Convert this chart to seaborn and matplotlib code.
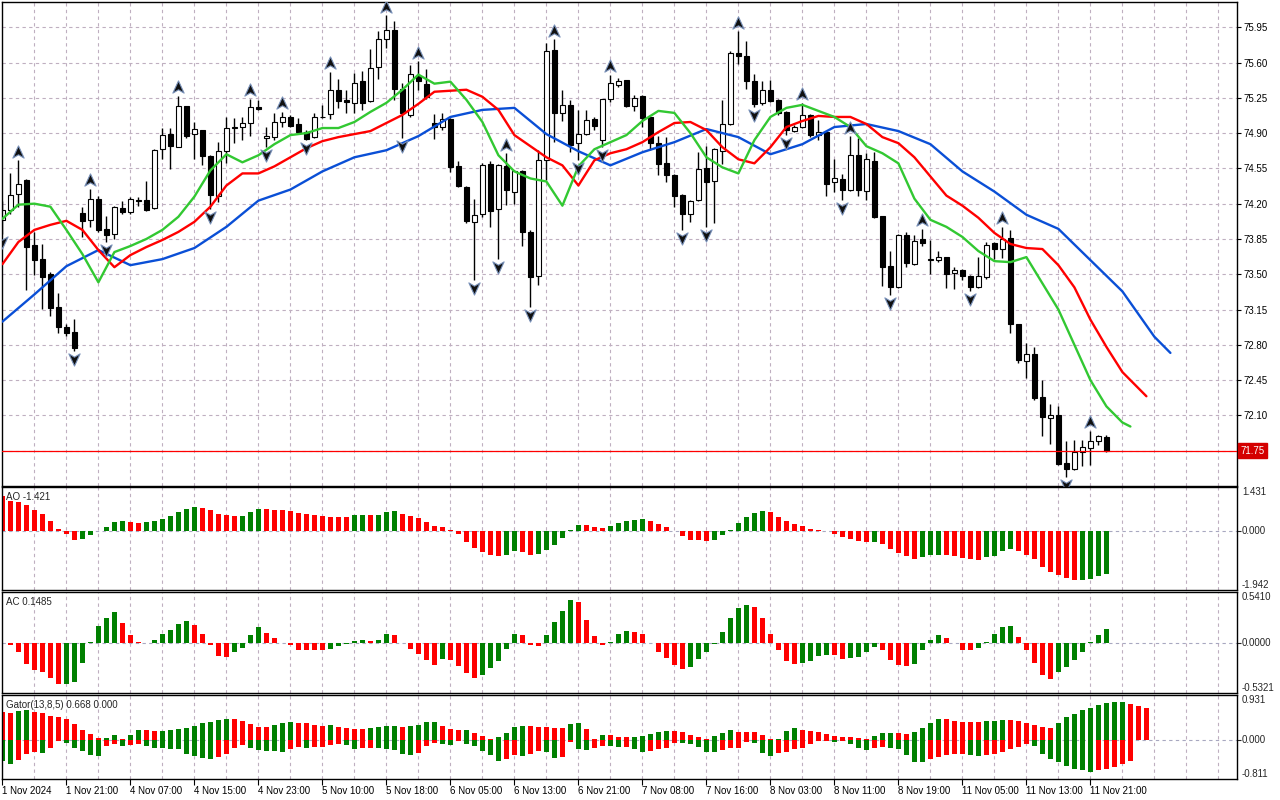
import matplotlib
matplotlib.use("Agg")
import matplotlib.pyplot as plt
import matplotlib.transforms as mtransforms
from matplotlib.path import Path
import numpy as np
import pandas as pd
import seaborn as sns

sns.set_style("white")
plt.rcParams["font.family"] = ["Liberation Sans", "DejaVu Sans"]

# ---------------- data ----------------
opens = [74.035, 74.14, 74.30, 74.43, 73.79, 73.65, 73.50, 73.18, 72.98, 72.93,
         74.11, 74.04, 74.25, 73.95, 73.90, 74.16, 74.12, 74.24, 74.24, 74.16,
         74.74, 74.89, 74.76, 75.17, 74.89, 74.93, 74.67, 74.28, 74.72, 74.95,
         74.96, 75.00, 75.16, 74.85, 74.86, 75.01, 75.06, 74.99, 74.91, 74.86,
         75.06, 75.09, 75.33, 75.23, 75.20, 75.42, 75.22, 75.56, 75.83, 75.92,
         75.34, 75.08, 75.47, 75.39, 75.00, 74.96, 75.04, 74.57, 74.37, 74.02,
         74.10, 74.59, 74.15, 74.57, 74.32, 74.52, 73.92, 73.48, 74.63, 75.72,
         75.10, 75.18, 74.80, 74.89, 75.04, 74.83, 75.24, 75.38, 75.43, 75.17,
         75.27, 75.06, 74.80, 74.60, 74.48, 74.29, 74.10, 74.24, 74.55, 74.42,
         74.72, 74.99, 75.69, 75.66, 75.42, 75.20, 75.33, 75.23, 75.11, 74.92,
         74.96, 75.08, 74.88, 74.91, 74.41, 74.44, 74.34, 74.68, 74.33, 74.62,
         74.08, 73.58, 73.37, 73.89, 73.60, 73.85, 73.64, 73.64, 73.67, 73.51,
         73.54, 73.48, 73.37, 73.47, 73.81, 73.75, 73.86, 73.01, 72.64, 72.71,
         72.28, 72.07, 72.10, 71.63, 71.57, 71.74, 71.78, 71.85, 71.89]
highs = [74.23, 74.50, 74.63, 74.44, 73.92, 73.80, 73.52, 73.31, 73.01, 73.06,
         74.17, 74.35, 74.28, 74.08, 74.18, 74.23, 74.27, 74.27, 74.42, 74.74,
         74.95, 74.95, 75.27, 75.17, 75.01, 74.93, 74.68, 74.81, 75.06, 75.05,
         75.06, 75.24, 75.23, 74.96, 75.10, 75.11, 75.08, 75.05, 74.93, 75.10,
         75.18, 75.51, 75.44, 75.33, 75.50, 75.52, 75.73, 75.91, 76.07, 76.01,
         75.40, 75.58, 75.61, 75.54, 75.09, 75.10, 75.05, 74.62, 74.38, 74.25,
         74.60, 74.62, 74.59, 74.70, 74.53, 74.53, 73.94, 74.73, 75.79, 75.83,
         75.33, 75.23, 75.13, 75.13, 75.06, 75.24, 75.48, 75.45, 75.43, 75.28,
         75.28, 75.06, 74.87, 74.86, 74.49, 74.30, 74.24, 74.71, 74.77, 74.75,
         75.23, 75.71, 75.91, 75.81, 75.49, 75.42, 75.43, 75.24, 75.12, 74.98,
         75.20, 75.09, 75.03, 74.91, 74.64, 74.49, 74.87, 74.85, 74.70, 74.71,
         74.08, 73.73, 73.90, 73.92, 73.89, 73.95, 73.84, 73.73, 73.67, 73.57,
         73.55, 73.49, 73.67, 73.82, 73.82, 73.97, 73.94, 73.01, 72.82, 72.78,
         72.45, 72.21, 72.19, 71.85, 71.86, 71.86, 71.95, 71.91, 71.91]
lows = [73.90, 74.10, 74.17, 73.34, 73.49, 73.16, 73.09, 72.92, 72.89, 72.74,
        73.87, 73.97, 73.92, 73.82, 73.85, 74.10, 74.10, 74.18, 74.13, 74.15,
        74.64, 74.54, 74.76, 74.85, 74.64, 74.58, 74.15, 74.22, 74.60, 74.80,
        74.83, 74.87, 75.13, 74.76, 74.83, 74.96, 74.96, 74.90, 74.83, 74.85,
        75.05, 75.04, 75.15, 75.10, 75.10, 75.13, 75.21, 75.44, 75.74, 75.23,
        74.85, 75.06, 75.33, 75.24, 74.84, 74.93, 74.51, 74.37, 74.01, 73.44,
        74.07, 73.97, 73.65, 74.19, 74.20, 73.78, 73.18, 73.39, 74.43, 74.81,
        75.02, 74.71, 74.63, 74.88, 74.93, 74.76, 75.21, 75.36, 75.16, 75.12,
        74.96, 74.73, 74.48, 74.41, 74.17, 73.94, 74.02, 74.23, 73.97, 74.01,
        74.59, 74.98, 75.59, 75.34, 75.16, 75.18, 75.21, 75.08, 74.88, 74.91,
        74.95, 74.86, 74.83, 74.28, 74.32, 74.24, 74.33, 74.28, 74.24, 74.06,
        73.38, 73.29, 73.36, 73.57, 73.59, 73.78, 73.50, 73.62, 73.36, 73.35,
        73.44, 73.33, 73.36, 73.45, 73.65, 73.66, 72.92, 72.62, 72.47, 72.25,
        71.90, 71.82, 71.61, 71.49, 71.56, 71.60, 71.61, 71.81, 71.74]
closes = [74.14, 74.29, 74.40, 73.77, 73.64, 73.47, 73.17, 72.98, 72.92, 72.77,
          74.03, 74.25, 73.94, 73.89, 74.17, 74.12, 74.25, 74.23, 74.14, 74.73,
          74.88, 74.77, 75.17, 74.87, 74.94, 74.67, 74.29, 74.72, 74.95, 74.96,
          75.00, 75.16, 75.14, 74.87, 75.01, 75.06, 74.97, 74.91, 74.84, 75.06,
          75.055, 75.33, 75.22, 75.21, 75.40, 75.20, 75.55, 75.83, 75.92, 75.34,
          75.10, 75.49, 75.42, 75.26, 74.96, 75.04, 74.56, 74.38, 74.03, 74.09,
          74.58, 74.13, 74.58, 74.34, 74.52, 73.92, 73.47, 74.63, 75.71, 75.10,
          75.18, 74.78, 74.89, 75.03, 74.97, 75.24, 75.40, 75.42, 75.17, 75.25,
          75.05, 74.80, 74.59, 74.48, 74.28, 74.10, 74.23, 74.54, 74.41, 74.74,
          74.99, 75.69, 75.66, 75.42, 75.19, 75.33, 75.22, 75.10, 74.93, 74.96,
          75.08, 74.88, 74.91, 74.40, 74.45, 74.34, 74.68, 74.34, 74.64, 74.07,
          73.57, 73.37, 73.89, 73.61, 73.83, 73.81, 73.65, 73.67, 73.50, 73.54,
          73.48, 73.37, 73.48, 73.79, 73.75, 73.85, 73.01, 72.65, 72.71, 72.27,
          72.08, 72.10, 71.62, 71.57, 71.74, 71.79, 71.85, 71.90, 71.75]

fractal_up_bars = [2, 11, 22, 31, 35, 41, 48, 52, 63, 69, 76, 92, 100, 106, 115, 125, 136]
fractal_down_bars = [0, 9, 13, 26, 33, 38, 50, 59, 62, 66, 72, 75, 85, 88, 94, 98, 105, 111, 121, 133]

# Alligator lines (already shifted forward: jaw 8, teeth 5, lips 3 bars)
jaw_bars = list(range(0, 145, 4)) + [146]
jaw_vals = [73.03, 73.30, 73.58, 73.74, 73.59, 73.65, 73.76, 73.97, 74.23, 74.34,
            74.52, 74.66, 74.73, 74.87, 75.06, 75.13, 75.15, 74.89, 74.72, 74.58,
            74.71, 74.81, 74.94, 74.86, 74.69, 74.79, 74.96, 74.99, 74.92, 74.79,
            74.52, 74.32, 74.09, 73.95, 73.64, 73.33, 72.88, 72.72]
teeth_bars = list(range(0, 143, 2)) + [143]
teeth_vals = [73.60, 73.82, 73.94, 73.99, 74.03, 73.94, 73.74, 73.57, 73.69, 73.77,
              73.84, 73.92, 74.02, 74.17, 74.38, 74.50, 74.50, 74.57, 74.66, 74.75,
              74.82, 74.86, 74.89, 74.92, 75.00, 75.08, 75.19, 75.31, 75.32, 75.33,
              75.26, 75.13, 74.88, 74.77, 74.66, 74.58, 74.38, 74.63, 74.70, 74.74,
              74.81, 74.91, 75.00, 75.01, 74.93, 74.76, 74.64, 74.60, 74.76, 74.96,
              75.02, 75.07, 75.06, 75.06, 74.99, 74.86, 74.80, 74.66, 74.47, 74.28,
              74.18, 74.06, 73.91, 73.80, 73.76, 73.75, 73.59, 73.37, 73.05, 72.78,
              72.53, 72.37, 72.29]
lips_bars = list(range(0, 141, 2)) + [141]
lips_vals = [74.05, 74.19, 74.20, 74.17, 73.94, 73.70, 73.42, 73.72, 73.78, 73.85,
             73.94, 74.07, 74.27, 74.53, 74.69, 74.61, 74.68, 74.79, 74.88, 74.90,
             74.95, 74.95, 75.01, 75.11, 75.20, 75.33, 75.48, 75.39, 75.41, 75.23,
             75.01, 74.68, 74.52, 74.45, 74.42, 74.18, 74.57, 74.74, 74.81, 74.88,
             75.02, 75.12, 75.10, 74.90, 74.66, 74.56, 74.50, 74.83, 75.06, 75.15,
             75.18, 75.12, 75.06, 74.96, 74.77, 74.70, 74.60, 74.25, 74.04, 73.97,
             73.87, 73.73, 73.63, 73.62, 73.67, 73.41, 73.15, 72.80, 72.45, 72.19,
             72.03, 71.99]

ao_vals = [1.14, 0.96, 0.95, 0.85, 0.69, 0.56, 0.33, 0.07, -0.12, -0.32,
           -0.28, -0.15, -0.02, 0.13, 0.29, 0.33, 0.27, 0.26, 0.29, 0.33,
           0.39, 0.49, 0.62, 0.72, 0.78, 0.75, 0.69, 0.56, 0.52, 0.48,
           0.49, 0.62, 0.72, 0.71, 0.69, 0.68, 0.65, 0.59, 0.56, 0.52,
           0.49, 0.46, 0.45, 0.44, 0.52, 0.53, 0.52, 0.53, 0.62, 0.63,
           0.56, 0.49, 0.43, 0.29, 0.16, 0.13, 0.03, -0.11, -0.36, -0.56,
           -0.69, -0.78, -0.82, -0.78, -0.65, -0.69, -0.78, -0.75, -0.62, -0.46,
           -0.23, 0.03, 0.20, 0.19, 0.13, 0.10, 0.16, 0.26, 0.33, 0.36,
           0.39, 0.33, 0.23, 0.13, -0.01, -0.19, -0.29, -0.30, -0.33, -0.32,
           -0.15, 0.03, 0.26, 0.46, 0.59, 0.65, 0.62, 0.46, 0.33, 0.23,
           0.16, 0.07, 0.01, -0.02, -0.12, -0.22, -0.28, -0.35, -0.38, -0.37,
           -0.45, -0.61, -0.74, -0.84, -0.94, -0.87, -0.81, -0.80, -0.81, -0.84,
           -0.90, -0.94, -0.95, -0.87, -0.84, -0.68, -0.61, -0.68, -0.81, -0.94,
           -1.20, -1.35, -1.46, -1.56, -1.62, -1.61, -1.59, -1.49, -1.421]
ac_vals = [0.0, -0.025, -0.094, -0.22, -0.29, -0.31, -0.375, -0.44, -0.435, -0.42,
           -0.21, 0.014, 0.18, 0.27, 0.33, 0.21, 0.08, 0.014, 0.004, 0.036,
           0.09, 0.14, 0.20, 0.23, 0.19, 0.09, -0.025, -0.14, -0.15, -0.10,
           -0.05, 0.08, 0.17, 0.11, 0.05, 0.004, -0.025, -0.07, -0.072, -0.073,
           -0.08, -0.06, -0.035, -0.015, 0.025, 0.036, 0.025, 0.036, 0.09, 0.08,
           0.0, -0.06, -0.115, -0.18, -0.235, -0.17, -0.18, -0.245, -0.32, -0.375,
           -0.34, -0.27, -0.19, -0.06, 0.09, 0.08, -0.025, -0.03, 0.08, 0.22,
           0.34, 0.46, 0.44, 0.24, 0.07, -0.025, 0.014, 0.10, 0.13, 0.12,
           0.10, -0.004, -0.094, -0.155, -0.235, -0.28, -0.26, -0.17, -0.10, -0.015,
           0.12, 0.26, 0.37, 0.40, 0.38, 0.26, 0.10, -0.08, -0.19, -0.22,
           -0.21, -0.19, -0.14, -0.13, -0.132, -0.17, -0.165, -0.15, -0.094, -0.04,
           -0.07, -0.18, -0.235, -0.245, -0.22, -0.07, 0.036, 0.08, 0.05, -0.004,
           -0.07, -0.072, -0.05, 0.014, 0.09, 0.17, 0.18, 0.06, -0.07, -0.21,
           -0.34, -0.385, -0.31, -0.26, -0.18, -0.094, 0.005, 0.08, 0.1485]
gator_upper = [0.576, 0.562, 0.604, 0.625, 0.57, 0.555, 0.50, 0.47, 0.43, 0.333,
               0.208, 0.125, 0.042, 0.045, 0.104, 0.021, 0.104, 0.208, 0.205, 0.187,
               0.19, 0.208, 0.229, 0.257, 0.278, 0.34, 0.375, 0.416, 0.437, 0.43,
               0.389, 0.333, 0.271, 0.268, 0.312, 0.34, 0.361, 0.347, 0.34, 0.319,
               0.298, 0.30, 0.271, 0.25, 0.229, 0.227, 0.25, 0.271, 0.278, 0.291,
               0.271, 0.298, 0.319, 0.375, 0.378, 0.29, 0.23, 0.208, 0.21, 0.146,
               0.083, 0.02, 0.062, 0.146, 0.27, 0.29, 0.288, 0.27, 0.268, 0.25,
               0.248, 0.333, 0.354, 0.229, 0.021, 0.104, 0.10, 0.062, 0.06, 0.062,
               0.083, 0.125, 0.167, 0.187, 0.185, 0.167, 0.104, 0.062, 0.021, 0.083,
               0.146, 0.208, 0.167, 0.165, 0.163, 0.104, 0.02, 0.021, 0.187, 0.25,
               0.208, 0.175, 0.16, 0.125, 0.08, 0.055, 0.05, 0.035, 0.014, 0.076,
               0.14, 0.145, 0.135, 0.12, 0.16, 0.245, 0.35, 0.43, 0.425, 0.39,
               0.37, 0.368, 0.365, 0.39, 0.395, 0.41, 0.405, 0.39, 0.35, 0.305,
               0.265, 0.245, 0.35, 0.47, 0.535, 0.62, 0.66, 0.72, 0.76, 0.78,
               0.785, 0.74, 0.70, 0.668]
gator_lower = [-0.43, -0.50, -0.42, -0.285, -0.25, -0.27, -0.167, -0.02, -0.056, -0.167,
               -0.222, -0.305, -0.333, -0.118, -0.083, -0.118, -0.097, -0.083, -0.118, -0.167,
               -0.17, -0.187, -0.19, -0.285, -0.333, -0.375, -0.396, -0.347, -0.285, -0.167,
               -0.104, -0.167, -0.208, -0.229, -0.23, -0.25, -0.187, -0.139, -0.16, -0.146,
               -0.139, -0.104, -0.083, -0.104, -0.187, -0.167, -0.165, -0.174, -0.187, -0.208,
               -0.29, -0.31, -0.27, -0.12, -0.06, -0.09, -0.104, -0.014, -0.076, -0.118,
               -0.222, -0.31, -0.43, -0.389, -0.31, -0.333, -0.29, -0.229, -0.25, -0.375,
               -0.354, -0.042, -0.187, -0.208, -0.167, -0.125, -0.127, -0.146, -0.145, -0.187,
               -0.25, -0.229, -0.187, -0.16, -0.056, -0.07, -0.075, -0.139, -0.243, -0.25,
               -0.208, -0.167, -0.16, -0.035, -0.062, -0.278, -0.326, -0.278, -0.25, -0.19,
               -0.165, -0.08, -0.03, -0.015, -0.05, -0.02, -0.09, -0.17, -0.215, -0.17,
               -0.15, -0.17, -0.19, -0.32, -0.465, -0.465, -0.40, -0.36, -0.32, -0.30,
               -0.30, -0.32, -0.34, -0.32, -0.30, -0.26, -0.19, -0.15, -0.09, -0.13,
               -0.30, -0.40, -0.465, -0.55, -0.61, -0.63, -0.67, -0.63, -0.61, -0.57,
               -0.49, -0.44]

time_labels = ["1 Nov 2024", "1 Nov 21:00", "4 Nov 07:00", "4 Nov 15:00", "4 Nov 23:00",
               "5 Nov 10:00", "5 Nov 18:00", "6 Nov 05:00", "6 Nov 13:00", "6 Nov 21:00",
               "7 Nov 08:00", "7 Nov 16:00", "8 Nov 03:00", "8 Nov 11:00", "8 Nov 19:00",
               "11 Nov 05:00", "11 Nov 13:00", "11 Nov 21:00"]
price_ticks = [75.95, 75.60, 75.25, 74.90, 74.55, 74.20, 73.85, 73.50, 73.15, 72.80, 72.45, 72.10]
bid_price = 71.75
main_range = (71.40, 76.20)
ao_range = (-1.942, 1.431)
ac_range = (-0.5321, 0.5410)
gator_range = (-0.811, 0.931)
ao_labels = ["-1.942", "0.000", "1.431"]
ac_labels = ["-0.5321", "0.0000", "0.5410"]
gator_labels = ["-0.811", "0.000", "0.931"]
ao_title = "AO -1.421"
ac_title = "AC 0.1485"
gator_title = "Gator(13,8,5) 0.668 0.000"

# ---------------- styling ----------------
GREEN = "#008000"
RED = "#FF0000"
GRID = "#BFAFC0"
FS = 7
W, H = 1280, 800
LABEL_EVERY = 8
GRID_EVERY = 4

fig = plt.figure(figsize=(W / 100, H / 100), dpi=100)
fig.patch.set_facecolor("white")


def axes_px(top, bottom, left=2, right=1237):
    return fig.add_axes([left / W, 1 - bottom / H, (right - left) / W, (bottom - top) / H])


ax_main = axes_px(2, 486)
ax_ao = axes_px(487, 590)
ax_ac = axes_px(592, 693)
ax_gt = axes_px(695, 779)
all_axes = [ax_main, ax_ao, ax_ac, ax_gt]

n = len(closes)
xmax = (1237 - 2) / 8.0 - 0.05
for ax in all_axes:
    ax.set_facecolor("white")
    ax.set_xlim(-0.05, xmax)
    for s in ax.spines.values():
        s.set_color("black")
        s.set_linewidth(1.0)
    for gx in range(GRID_EVERY, int(xmax) + 1, GRID_EVERY):
        ax.axvline(gx, color=GRID, lw=0.8, ls=(0, (3, 3)), zorder=0)
    ax.tick_params(axis="x", bottom=False, labelbottom=False)

# ---- main panel: candles ----
x = np.arange(n)
o = np.array(opens); c = np.array(closes); hi = np.array(highs); lo = np.array(lows)
ax_main.vlines(x, lo, hi, color="black", lw=1.0, zorder=2)
body_bottom = np.minimum(o, c)
body_h = np.maximum(np.abs(c - o), 0.006)
faces = ["white" if cc >= oo else "black" for oo, cc in zip(o, c)]
ax_main.bar(x, body_h, bottom=body_bottom, width=0.62, color=faces,
            edgecolor="black", linewidth=0.8, zorder=2.5)

# ---- alligator lines via seaborn ----
for bars, vals, col in [(jaw_bars, jaw_vals, "#0A4FD6"),
                        (teeth_bars, teeth_vals, "#FF0000"),
                        (lips_bars, lips_vals, "#32C832")]:
    df = pd.DataFrame({"bar": bars, "value": vals})
    sns.lineplot(data=df, x="bar", y="value", ax=ax_main, color=col, lw=1.7,
                 estimator=None, sort=False, zorder=3)

# ---- fractals ----
up_path = Path([(0, 1), (0.85, -0.85), (0, -0.35), (-0.85, -0.85), (0, 1)],
               [Path.MOVETO, Path.LINETO, Path.LINETO, Path.LINETO, Path.CLOSEPOLY])
down_path = Path([(0, -1), (0.85, 0.85), (0, 0.35), (-0.85, 0.85), (0, -1)],
                 [Path.MOVETO, Path.LINETO, Path.LINETO, Path.LINETO, Path.CLOSEPOLY])
off_up = ax_main.transData + mtransforms.ScaledTranslation(0, 8.5 / 100, fig.dpi_scale_trans)
off_dn = ax_main.transData + mtransforms.ScaledTranslation(0, -8 / 100, fig.dpi_scale_trans)
ax_main.plot(fractal_up_bars, [highs[i] for i in fractal_up_bars], ls="none",
             marker=up_path, ms=9.5, mfc="#101010", mec="#7890B8", mew=0.8,
             transform=off_up, zorder=4)
ax_main.plot(fractal_down_bars, [lows[i] for i in fractal_down_bars], ls="none",
             marker=down_path, ms=9.5, mfc="#101010", mec="#7890B8", mew=0.8,
             transform=off_dn, zorder=4)

ax_main.set_ylim(*main_range)
ax_main.set_xlim(-0.05, xmax)
ax_main.set_xlabel(""); ax_main.set_ylabel("")
ax_main.set_yticks(price_ticks)
ax_main.set_yticklabels([f"{p:.2f}" for p in price_ticks])
ax_main.yaxis.tick_right()
ax_main.tick_params(axis="y", right=True, left=False, labelright=True, labelleft=False,
                    length=3, width=0.8, pad=2, labelsize=FS, colors="black")
for p in price_ticks + [bid_price]:
    ax_main.axhline(p, color=GRID, lw=0.8, ls=(0, (3, 3)), zorder=0)
ax_main.axhline(bid_price, color="#FF0000", lw=0.9, zorder=3.5)
ax_main.annotate(f"{bid_price:.2f}", xy=(1, bid_price), xycoords=("axes fraction", "data"),
                 xytext=(2.6, 0), textcoords="offset points", ha="left", va="center",
                 fontsize=FS, color="white",
                 bbox=dict(boxstyle="square,pad=0.28", fc="#D40000", ec="#D40000"))


# ---- indicator panels ----
def change_colors(vals, first, use_abs=False):
    v = [abs(a) for a in vals] if use_abs else list(vals)
    cols = [first]
    for k in range(1, len(v)):
        if v[k] > v[k - 1]:
            cols.append(GREEN)
        elif v[k] < v[k - 1]:
            cols.append(RED)
        else:
            cols.append(cols[-1])
    return cols


def panel_axis(ax, rng, labels, title):
    ax.set_ylim(*rng)
    ax.axhline(0, color="#A8A8C0", lw=0.8, ls=(0, (3, 3)), zorder=0.5)
    ax.set_yticks([0])
    ax.set_yticklabels([""])
    ax.yaxis.tick_right()
    ax.tick_params(axis="y", right=True, left=False, labelleft=False, length=3, width=0.8)
    tr = mtransforms.blended_transform_factory(ax.transAxes, ax.transData)
    off = mtransforms.ScaledTranslation(5 / 100, 0, fig.dpi_scale_trans)
    ax.text(1, rng[0], labels[0], transform=tr + off, ha="left", va="bottom", fontsize=FS)
    ax.text(1, 0, labels[1], transform=tr + off, ha="left", va="center", fontsize=FS)
    ax.text(1, rng[1], labels[2], transform=tr + off, ha="left", va="top", fontsize=FS)
    ax.text(4 / 1235, 1, title, transform=ax.transAxes + mtransforms.ScaledTranslation(0, -5 / 100, fig.dpi_scale_trans),
            ha="left", va="top", fontsize=FS)
    ax.set_xlabel(""); ax.set_ylabel("")


ax_ao.bar(np.arange(len(ao_vals)), ao_vals, width=0.55, color=change_colors(ao_vals, RED),
          linewidth=0, zorder=2)
panel_axis(ax_ao, ao_range, ao_labels, ao_title)

ax_ac.bar(np.arange(len(ac_vals)), ac_vals, width=0.55, color=change_colors(ac_vals, RED),
          linewidth=0, zorder=2)
panel_axis(ax_ac, ac_range, ac_labels, ac_title)

ax_gt.bar(np.arange(len(gator_upper)), gator_upper, width=0.55,
          color=change_colors(gator_upper, RED), linewidth=0, zorder=2)
ax_gt.bar(np.arange(len(gator_lower)), gator_lower, width=0.55,
          color=change_colors(gator_lower, GREEN, use_abs=True), linewidth=0, zorder=2)
panel_axis(ax_gt, gator_range, gator_labels, gator_title)

for ax in all_axes:
    ax.set_xlim(-0.05, xmax)

label_pos = [k * LABEL_EVERY for k in range(len(time_labels))]
ax_gt.set_xticks(label_pos)
ax_gt.set_xticklabels(time_labels, ha="left")
ax_gt.tick_params(axis="x", bottom=True, labelbottom=True, length=4, width=0.8, pad=1,
                  labelsize=FS, colors="black")

fig.savefig("out.png", dpi=100, facecolor="white")
